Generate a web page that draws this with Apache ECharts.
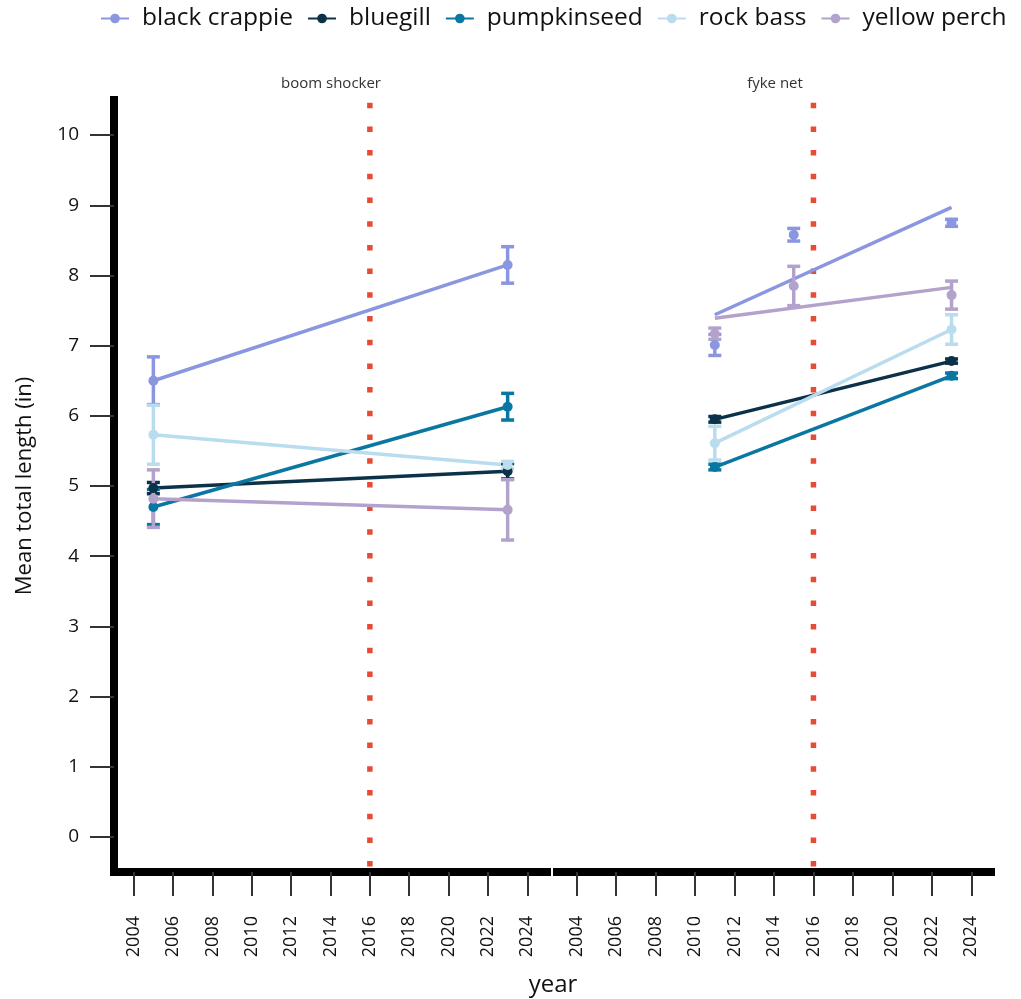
<!DOCTYPE html>
<html>
<head>
<meta charset="utf-8">
<script src="https://cdn.jsdelivr.net/npm/echarts@6/dist/echarts.min.js"></script>
<style>
  html, body { margin: 0; padding: 0; background: #fff; }
  #chart { width: 1021px; height: 999px; }
</style>
</head>
<body>
<div id="chart"></div>
<script>
// Species (legend order) and their colours
const species = ['black crappie', 'bluegill', 'pumpkinseed', 'rock bass', 'yellow perch'];
const speciesColors = ['#8a96e0', '#0b3248', '#0a77a3', '#b9dcee', '#b3a2cc'];

// Survey gear panels
const panels = ['boom shocker', 'fyke net'];

// Boom shocker survey years, mean total length (in) and +/- error per species (rows follow `species`)
const boomYears = [2005, 2023];
const boomMean = [
  [6.50, 8.15],
  [4.97, 5.21],
  [4.70, 6.13],
  [5.73, 5.30],
  [4.82, 4.66]
];
const boomErr = [
  [0.34, 0.26],
  [0.08, 0.11],
  [0.25, 0.19],
  [0.42, 0.05],
  [0.41, 0.43]
];
// Boom shocker trend line values at the first and last survey year
const boomTrend = [
  [6.50, 8.15],
  [4.97, 5.21],
  [4.70, 6.13],
  [5.73, 5.30],
  [4.82, 4.66]
];

// Fyke net survey years, mean total length (in) and +/- error (null = species not caught)
const fykeYears = [2011, 2015, 2023];
const fykeMean = [
  [7.01, 8.58, 8.75],
  [5.95, null, 6.78],
  [5.27, null, 6.57],
  [5.61, null, 7.23],
  [7.17, 7.85, 7.72]
];
const fykeErr = [
  [0.15, 0.09, 0.05],
  [0.04, null, 0.03],
  [0.04, null, 0.04],
  [0.24, null, 0.21],
  [0.08, 0.28, 0.20]
];
// Fyke net trend line values at 2011 and 2023
const fykeTrend = [
  [7.44, 8.97],
  [5.95, 6.78],
  [5.27, 6.57],
  [5.61, 7.23],
  [7.39, 7.83]
];

// Reference year marked with a dotted line in each panel
const markerYear = 2016;

// Tick labels
const xTicks = [2004, 2006, 2008, 2010, 2012, 2014, 2016, 2018, 2020, 2022, 2024];
const yTicks = [0, 1, 2, 3, 4, 5, 6, 7, 8, 9, 10];

const FONT = '"Open Sans", "Noto Sans", sans-serif';
const X_MIN = 2003, X_MAX = 2025, Y_MIN = -0.5, Y_MAX = 10.5;

const chart = echarts.init(document.getElementById('chart'), null, { renderer: 'canvas' });

function xAxisFor(i) {
  return {
    type: 'value', gridIndex: i, min: X_MIN, max: X_MAX,
    axisLine: { show: true, onZero: false, lineStyle: { color: '#000', width: 8, cap: 'square' } },
    axisTick: { show: true, customValues: xTicks, length: 24, lineStyle: { color: '#333', width: 2 } },
    axisLabel: {
      customValues: xTicks, rotate: 90, margin: 44, fontSize: 18, color: '#111', fontFamily: FONT,
      formatter: function (v) { return String(v); }
    },
    splitLine: { show: false }
  };
}

function yAxisFor(i) {
  const shown = i === 0;
  return {
    type: 'value', gridIndex: i, min: Y_MIN, max: Y_MAX,
    name: shown ? 'Mean total length (in)' : '',
    nameLocation: 'middle', nameGap: 78,
    nameTextStyle: { fontSize: 22, color: '#111', fontFamily: FONT },
    axisLine: { show: shown, onZero: false, lineStyle: { color: '#000', width: 8, cap: 'square' } },
    axisTick: { show: shown, customValues: yTicks, length: 24, lineStyle: { color: '#333', width: 2 } },
    axisLabel: { show: shown, customValues: yTicks, margin: 35, fontSize: 19, color: '#111', fontFamily: FONT },
    splitLine: { show: false }
  };
}

// Vertical error bar with end caps
function errorBarRenderer(color) {
  return function (params, api) {
    const x = api.value(0), y = api.value(1), e = api.value(2);
    const top = api.coord([x, y + e]);
    const bot = api.coord([x, y - e]);
    const half = 6.5;
    const style = { stroke: color, lineWidth: 3.5 };
    return {
      type: 'group',
      children: [
        { type: 'line', shape: { x1: top[0], y1: top[1], x2: bot[0], y2: bot[1] }, style },
        { type: 'line', shape: { x1: top[0] - half, y1: top[1], x2: top[0] + half, y2: top[1] }, style },
        { type: 'line', shape: { x1: bot[0] - half, y1: bot[1], x2: bot[0] + half, y2: bot[1] }, style }
      ]
    };
  };
}

const series = [];

// Trend lines first so each legend entry takes its icon from a line series
panels.forEach(function (p, pi) {
  const years = pi === 0 ? boomYears : fykeYears;
  const trend = pi === 0 ? boomTrend : fykeTrend;
  species.forEach(function (sp, si) {
    series.push({
      name: sp, type: 'line', xAxisIndex: pi, yAxisIndex: pi,
      data: [[years[0], trend[si][0]], [years[years.length - 1], trend[si][1]]],
      symbol: 'circle', symbolSize: 10, showSymbol: false,
      lineStyle: { color: speciesColors[si], width: 3.5 },
      itemStyle: { color: speciesColors[si] },
      z: 3, silent: true, animation: false
    });
  });
});

// Error bars and mean points
panels.forEach(function (p, pi) {
  const years = pi === 0 ? boomYears : fykeYears;
  const means = pi === 0 ? boomMean : fykeMean;
  const errs = pi === 0 ? boomErr : fykeErr;
  species.forEach(function (sp, si) {
    const rows = [];
    years.forEach(function (yr, k) {
      if (means[si][k] != null) rows.push([yr, means[si][k], errs[si][k]]);
    });
    series.push({
      name: sp, type: 'custom', xAxisIndex: pi, yAxisIndex: pi,
      data: rows, renderItem: errorBarRenderer(speciesColors[si]),
      itemStyle: { color: speciesColors[si] },
      z: 4, silent: true, animation: false
    });
    series.push({
      name: sp, type: 'scatter', xAxisIndex: pi, yAxisIndex: pi,
      data: rows.map(function (r) { return [r[0], r[1]]; }),
      symbol: 'circle', symbolSize: 10,
      itemStyle: { color: speciesColors[si], opacity: 1 },
      z: 5, silent: true, animation: false
    });
  });
});

// Dotted reference lines
panels.forEach(function (p, pi) {
  series.push({
    type: 'line', xAxisIndex: pi, yAxisIndex: pi,
    data: [[markerYear, Y_MAX], [markerYear, Y_MIN]],
    symbol: 'none',
    lineStyle: { color: '#e64b35', width: 5.5, type: [5.5, 18.2], dashOffset: 21, cap: 'butt' },
    z: 2, silent: true, animation: false
  });
});

const option = {
  backgroundColor: '#ffffff',
  animation: false,
  textStyle: { fontFamily: FONT },
  legend: {
    data: species,
    top: 6, left: 100, right: 0, padding: 0,
    itemWidth: 28, itemHeight: 12, itemGap: 14,
    textStyle: { fontSize: 24.5, color: '#111', fontFamily: FONT, padding: [0, 0, 0, 8] }
  },
  grid: [
    { left: 114, top: 100, width: 433, height: 772, containLabel: false },
    { left: 557, top: 100, width: 434, height: 772, containLabel: false }
  ],
  xAxis: [xAxisFor(0), xAxisFor(1)],
  yAxis: [yAxisFor(0), yAxisFor(1)],
  graphic: [
    { type: 'text', x: 331, y: 84, style: { text: panels[0], fontSize: 15, fill: '#333', fontFamily: FONT, align: 'center', verticalAlign: 'middle' } },
    { type: 'text', x: 775, y: 84, style: { text: panels[1], fontSize: 15, fill: '#333', fontFamily: FONT, align: 'center', verticalAlign: 'middle' } },
    { type: 'text', x: 553, y: 985, style: { text: 'year', fontSize: 24, fill: '#111', fontFamily: FONT, align: 'center', verticalAlign: 'middle' } }
  ],
  series: series
};

chart.setOption(option);
</script>
</body>
</html>
